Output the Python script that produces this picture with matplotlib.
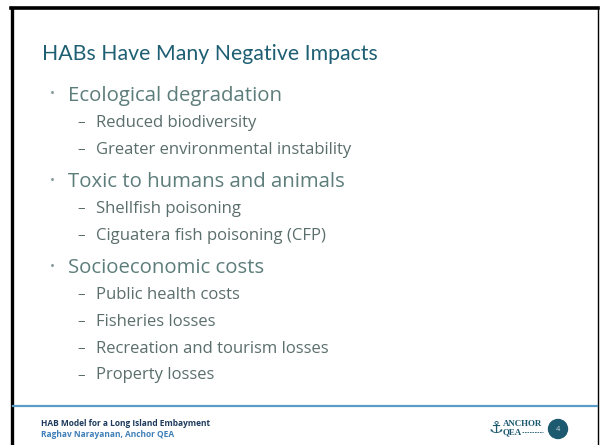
import matplotlib
matplotlib.use("Agg")
import matplotlib.pyplot as plt
from matplotlib.patches import Circle
from matplotlib.lines import Line2D

# ---- slide content ----
title = "HABs Have Many Negative Impacts"
bullets = ["Ecological degradation",
           "Toxic to humans and animals",
           "Socioeconomic costs"]
sub_items = [["Reduced biodiversity", "Greater environmental instability"],
             ["Shellfish poisoning", "Ciguatera fish poisoning (CFP)"],
             ["Public health costs", "Fisheries losses",
              "Recreation and tourism losses", "Property losses"]]
footer_line1 = "HAB Model for a Long Island Embayment"
footer_line2 = "Raghav Narayanan, Anchor QEA"
logo_words = ["ANCHOR", "QEA"]
page_number = "4"

FONT = ["Open Sans", "DejaVu Sans"]
TITLE_FONT = ["Lato", "DejaVu Sans"]
TITLE_C = "#1e5f73"
L1_C = "#5d7d7b"
L2_C = "#5a6e6c"
NAVY = "#1d3a5c"
BLUE = "#3f7fb8"
LOGO_C = "#1d5a70"

fig = plt.figure(figsize=(6.0, 4.45), dpi=100)
ax = fig.add_axes([0, 0, 1, 1])
ax.set_xlim(0, 600)
ax.set_ylim(445, 0)
ax.axis("off")

# slide frame
ax.add_line(Line2D([12, 12], [8, 445], color="black", lw=2.4))
ax.add_line(Line2D([11, 598], [8, 8], color="black", lw=2.6))
ax.add_line(Line2D([598, 598], [8, 445], color="black", lw=1.0))

# title
ax.text(42, 60, title, fontsize=15.3, color=TITLE_C, family=TITLE_FONT,
        va="baseline", ha="left")

# bullets
y = 100.5
for i, (b, subs) in enumerate(zip(bullets, sub_items)):
    if i > 0:
        y += 33
    ax.text(52, y - 6.5, "•", fontsize=9.5, color="#7f9493", family=FONT,
            va="center", ha="center")
    ax.text(68, y, b, fontsize=14.7, color=L1_C, family=FONT,
            va="baseline", ha="left")
    y += 26.3
    for j, s in enumerate(subs):
        if j > 0:
            y += 26.8
        ax.text(77, y - 4.3, "–", fontsize=11, color=L2_C, family=FONT,
                va="center", ha="left")
        ax.text(96, y, s, fontsize=12.0, color=L2_C, family=FONT,
                va="baseline", ha="left")

# footer rule
ax.add_line(Line2D([13, 597], [406, 406], color="#5b9bc8", lw=1.6))

# footer text
ax.text(41, 426, footer_line1, fontsize=6.0, color=NAVY, family=FONT,
        fontweight="bold", va="baseline", ha="left")
ax.text(41, 437, footer_line2, fontsize=6.0, color=BLUE, family=FONT,
        fontweight="bold", va="baseline", ha="left")

# logo
ax.text(496, 428, "⚓", fontsize=12, color=LOGO_C, family=["DejaVu Sans"],
        va="center", ha="center")
ax.text(503, 425.5, logo_words[0], fontsize=6.4, color=LOGO_C,
        family=["Liberation Serif", "DejaVu Serif"], fontweight="bold",
        va="baseline", ha="left")
ax.text(503, 434.5, logo_words[1], fontsize=6.4, color=LOGO_C,
        family=["Liberation Serif", "DejaVu Serif"], fontweight="bold",
        va="baseline", ha="left")
ax.add_line(Line2D([522, 543], [432, 432], color=LOGO_C, lw=0.6,
                   linestyle=(0, (2, 1))))

# page number badge
ax.add_patch(Circle((558, 429), 9.5, color=LOGO_C, zorder=3))
ax.text(558, 429.5, page_number, fontsize=5.5, color="#c9d6dc", family=FONT,
        va="center", ha="center", zorder=4)

fig.savefig("out.png", dpi=100, facecolor="white")
